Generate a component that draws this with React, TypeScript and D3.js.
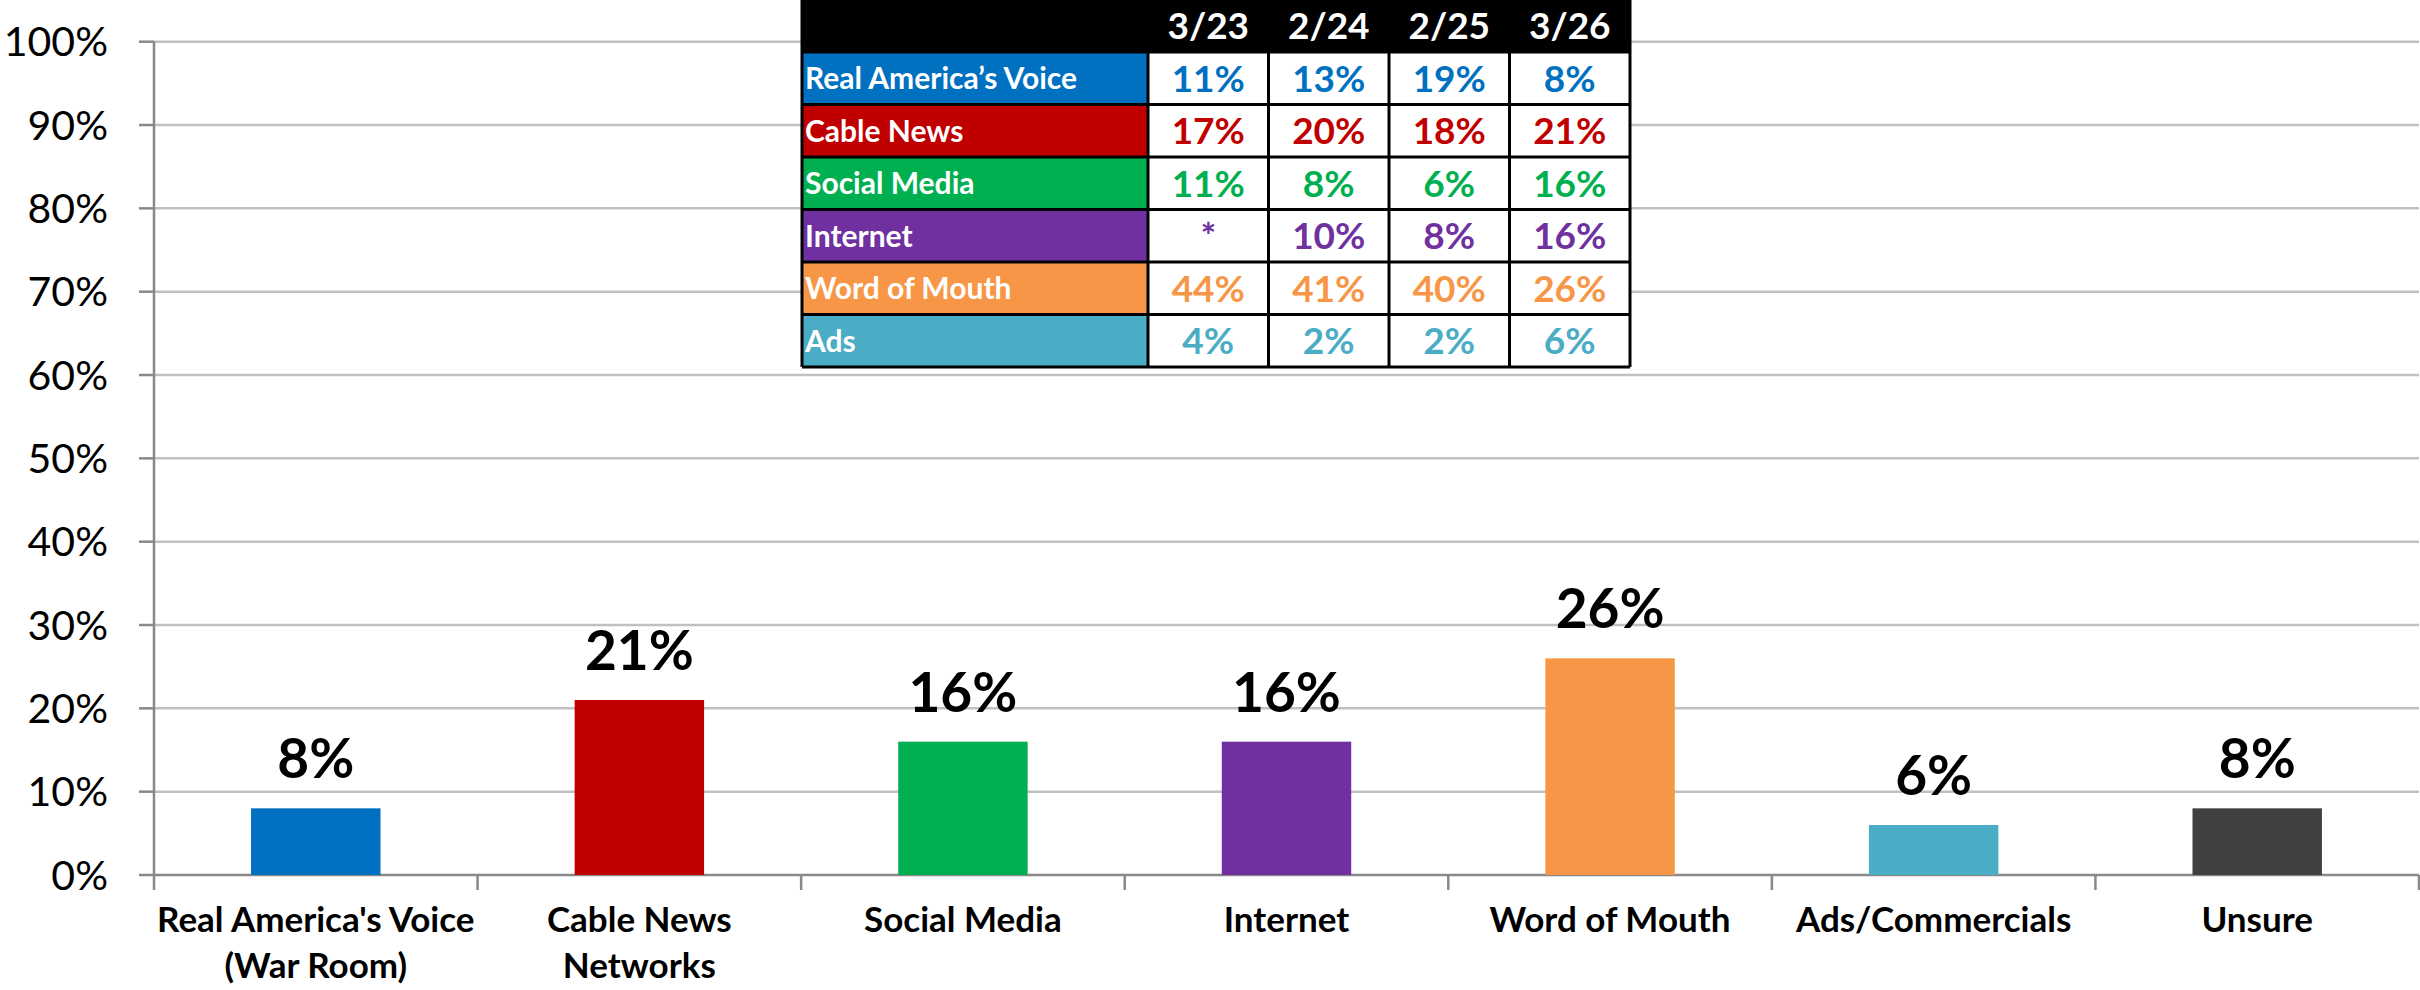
import React from "react";
import * as d3 from "d3";

const categories = [
  "Real America's Voice\n(War Room)",
  "Cable News\nNetworks",
  "Social Media",
  "Internet",
  "Word of Mouth",
  "Ads/Commercials",
  "Unsure",
];
const values = [8, 21, 16, 16, 26, 6, 8];
const barColors = ["#0070C0", "#C00000", "#00B050", "#7030A0", "#F79646", "#4BACC6", "#404040"];
const yTicks = [0, 10, 20, 30, 40, 50, 60, 70, 80, 90, 100];

const tableDates = ["3/23", "2/24", "2/25", "3/26"];
const tableRowNames = ["Real America’s Voice", "Cable News", "Social Media", "Internet", "Word of Mouth", "Ads"];
const tableRowColors = ["#0070C0", "#C00000", "#00B050", "#7030A0", "#F79646", "#4BACC6"];
const ravValues = ["11%", "13%", "19%", "8%"];
const cableValues = ["17%", "20%", "18%", "21%"];
const socialValues = ["11%", "8%", "6%", "16%"];
const internetValues = ["*", "10%", "8%", "16%"];
const mouthValues = ["44%", "41%", "40%", "26%"];
const adsValues = ["4%", "2%", "2%", "6%"];
const tableValues = [ravValues, cableValues, socialValues, internetValues, mouthValues, adsValues];

const W = 2420;
const H = 990;
const FONT = "Lato, 'Open Sans', sans-serif";

export default function App() {
  const x0 = 154;
  const x1 = 2419;
  const yBottom = 875;
  const yTop = 41.7;
  const x = d3.scaleBand<string>().domain(categories).range([x0, x1]).paddingInner(0.6).paddingOuter(0.3);
  const y = d3.scaleLinear().domain([0, 100]).range([yBottom, yTop]);
  const step = x.step();

  // table layout
  const tLeft = 802;
  const labelW = 346;
  const colW = 120.5;
  const headH = 52;
  const rowH = 52.5;
  const colX = d3.range(tableDates.length + 1).map((i) => tLeft + labelW + i * colW);
  const tRight = colX[colX.length - 1];
  const rowY = d3.range(tableRowNames.length + 1).map((i) => headH + i * rowH);
  const tBottom = rowY[rowY.length - 1];

  return (
    <svg width={W} height={H} style={{ position: "absolute", left: 0, top: 0, background: "#fff" }}>
      {/* gridlines */}
      {yTicks.map((t) => (
        <line key={"g" + t} x1={x0} x2={x1} y1={y(t)} y2={y(t)} stroke={t === 0 ? "#898989" : "#C0C0C0"} strokeWidth={2.5} />
      ))}
      {/* y axis */}
      <line x1={x0} x2={x0} y1={yTop} y2={yBottom} stroke="#898989" strokeWidth={2.5} />
      {yTicks.map((t) => (
        <g key={"yt" + t}>
          <line x1={x0 - 15} x2={x0} y1={y(t)} y2={y(t)} stroke="#898989" strokeWidth={2.5} />
          <text x={108} y={y(t)} dy="0.36em" textAnchor="end" fontFamily={FONT} fontSize={41} fill="#000">
            {t}%
          </text>
        </g>
      ))}
      {/* x ticks */}
      {d3.range(categories.length + 1).map((i) => (
        <line key={"xt" + i} x1={x0 + i * step} x2={x0 + i * step} y1={yBottom} y2={yBottom + 15} stroke="#898989" strokeWidth={2.5} />
      ))}
      {/* bars */}
      {categories.map((c, i) => (
        <g key={"b" + i}>
          <rect x={x(c)} y={y(values[i])} width={x.bandwidth()} height={yBottom - y(values[i])} fill={barColors[i]} />
          <text
            x={(x(c) as number) + x.bandwidth() / 2}
            y={y(values[i]) - 30}
            textAnchor="middle"
            fontFamily={FONT}
            fontWeight="bold"
            fontSize={55}
            fill="#000"
          >
            {values[i]}%
          </text>
        </g>
      ))}
      {/* category labels */}
      {categories.map((c, i) =>
        c.split("\n").map((ln, j) => (
          <text
            key={"cl" + i + "-" + j}
            x={(x(c) as number) + x.bandwidth() / 2}
            y={932 + j * 46}
            textAnchor="middle"
            fontFamily={FONT}
            fontWeight="bold"
            fontSize={35}
            fill="#000"
          >
            {ln}
          </text>
        ))
      )}
      {/* table */}
      <g>
        <rect x={tLeft} y={0} width={tRight - tLeft} height={headH} fill="#000" />
        {tableDates.map((d, k) => (
          <text key={"h" + k} x={(colX[k] + colX[k + 1]) / 2} y={headH / 2} dy="0.36em" textAnchor="middle" fontFamily={FONT} fontWeight="bold" fontSize={37} fill="#fff">
            {d}
          </text>
        ))}
        {tableRowNames.map((name, r) => (
          <g key={"r" + r}>
            <rect x={tLeft} y={rowY[r]} width={labelW} height={rowH} fill={tableRowColors[r]} />
            <text x={tLeft + 3} y={(rowY[r] + rowY[r + 1]) / 2} dy="0.36em" fontFamily={FONT} fontWeight="bold" fontSize={30} fill="#fff">
              {name}
            </text>
            {tableValues[r].map((v, k) => (
              <g key={"c" + k}>
                <rect x={colX[k]} y={rowY[r]} width={colW} height={rowH} fill="#fff" />
                <text x={(colX[k] + colX[k + 1]) / 2} y={(rowY[r] + rowY[r + 1]) / 2} dy="0.36em" textAnchor="middle" fontFamily={FONT} fontWeight="bold" fontSize={37} fill={tableRowColors[r]}>
                  {v}
                </text>
              </g>
            ))}
          </g>
        ))}
        {/* borders */}
        {rowY.map((yy, r) => (
          <line key={"hl" + r} x1={tLeft} x2={tRight} y1={yy} y2={yy} stroke="#000" strokeWidth={3} />
        ))}
        {colX.map((xx, k) => (
          <line key={"vl" + k} x1={xx} x2={xx} y1={0} y2={tBottom} stroke="#000" strokeWidth={3} />
        ))}
        <line x1={tLeft} x2={tLeft} y1={0} y2={tBottom} stroke="#000" strokeWidth={3} />
      </g>
    </svg>
  );
}
